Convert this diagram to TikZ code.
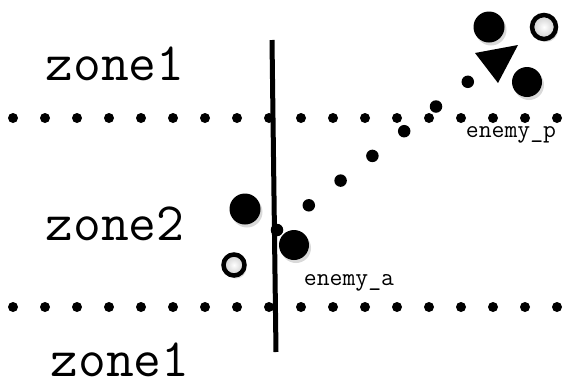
\documentclass[tikz,border=0pt]{standalone}
\usetikzlibrary{shadows}
\begin{document}
\begin{tikzpicture}[x=1pt,y=-1pt,
  unit/.style={circle, fill=black, minimum size=31pt, inner sep=0pt,
    drop shadow={shadow xshift=2pt, shadow yshift=-3pt, opacity=0.3}},
  ally/.style={circle, draw=black, line width=4.5pt, inner color=white, outer color=gray!40,
    minimum size=23pt, inner sep=0pt,
    drop shadow={shadow xshift=2pt, shadow yshift=-3pt, opacity=0.3}},
  dot/.style={circle, fill=black, minimum size=10pt, inner sep=0pt},
  zonelabel/.style={font=\fontsize{54}{54}\selectfont\ttfamily, inner sep=0pt, anchor=base},
  tag/.style={font=\fontsize{25}{25}\selectfont\ttfamily, inner sep=0pt, anchor=base}]
\useasboundingbox (0,0) rectangle (563,389);

\foreach \i in {0,...,17} {
  \node[dot] (u\i) at (13+32*\i,118) {};
  \node[dot] (l\i) at (13+32*\i,307) {};
}

\coordinate (wtop) at (272,40);
\coordinate (wbot) at (276,352);
\draw[line width=5pt] (wtop) -- (wbot);

\foreach \k in {0,...,6}
  \node[dot, minimum size=12.5pt] (p\k) at (277+31.8*\k,230-24.7*\k) {};

\node[unit] (a1) at (245,209) {};
\node[unit, minimum size=30pt] (a2) at (294,245) {};
\node[ally, minimum size=21pt] (a3) at (234,265) {};
\node[unit] (b1) at (489,27) {};
\node[unit, minimum size=30pt] (b2) at (527,82) {};
\node[ally, minimum size=24pt] (b3) at (544,27) {};
\fill (475,53) -- (518,45) -- (498,83) -- cycle;

\node[zonelabel] (z1) at (115,80) {zone1};
\node[zonelabel] (z2) at (115,240) {zone2};
\node[zonelabel] (z3) at (120,376) {zone1};
\node[tag] (ea) at (349,285) {enemy\_a};
\node[tag] (ep) at (511,137) {enemy\_p};
\end{tikzpicture}
\end{document}
